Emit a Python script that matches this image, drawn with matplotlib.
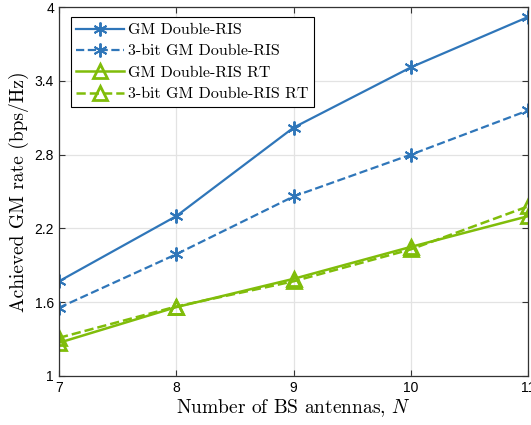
import numpy as np
import matplotlib
matplotlib.use("Agg")
import matplotlib.pyplot as plt

plt.rcParams['mathtext.fontset'] = 'cm'
plt.rcParams['axes.unicode_minus'] = False

# data
antennas = [7, 8, 9, 10, 11]
gm_double = [1.77, 2.30, 3.02, 3.51, 3.92]
gm_double_3bit = [1.555, 1.99, 2.46, 2.80, 3.16]
gm_double_rt = [1.27, 1.56, 1.79, 2.05, 2.30]
gm_double_rt_3bit = [1.31, 1.565, 1.77, 2.03, 2.38]

labels = ['GM Double-RIS', '3-bit GM Double-RIS',
          'GM Double-RIS RT', '3-bit GM Double-RIS RT']
yticks = [1, 1.6, 2.2, 2.8, 3.4, 4]

blue = '#2F76B9'
green = '#80BD0A'
serif = 'cmr10'

fig = plt.figure(figsize=(5.31, 4.25), dpi=100)
ax = fig.add_axes([0.111, 0.1153, 0.884, 0.8682])

ax.plot(antennas, gm_double, '-', color=blue, lw=1.6,
        marker=(6, 2, 0), ms=10, mew=1.4, label=labels[0])
ax.plot(antennas, gm_double_3bit, '--', color=blue, lw=1.6,
        marker=(6, 2, 0), ms=10, mew=1.4, label=labels[1])
ax.plot(antennas, gm_double_rt, '-', color=green, lw=1.8,
        marker='^', ms=10, mew=2, mfc='none', label=labels[2])
ax.plot(antennas, gm_double_rt_3bit, '--', color=green, lw=1.8,
        marker='^', ms=10, mew=2, mfc='none', label=labels[3])

ax.set_xlim(7, 11)
ax.set_ylim(1, 4)
ax.set_xticks(antennas)
ax.set_yticks(yticks)
ax.set_yticklabels([f'{v:g}' for v in yticks])
ax.tick_params(direction='in', top=True, right=True, labelsize=10,
               length=4, color='#333333')
for lab in ax.get_xticklabels() + ax.get_yticklabels():
    lab.set_family('Liberation Sans')
for sp in ax.spines.values():
    sp.set_color('#333333')
    sp.set_linewidth(0.9)
ax.grid(True, color='#E3E3E3', lw=0.9)
ax.set_axisbelow(True)

ax.set_xlabel('Number of BS antennas, $N$', family=serif, fontsize=14, labelpad=2)
ax.set_ylabel('Achieved GM rate (bps/Hz)', family=serif, fontsize=14, labelpad=4)

leg = ax.legend(loc='upper left', bbox_to_anchor=(0.015, 0.985),
                prop={'family': serif, 'size': 11.5}, fancybox=False,
                framealpha=1, edgecolor='black', handlelength=3.0,
                handletextpad=0.25, borderpad=0.35, labelspacing=0.45,
                borderaxespad=0.3)
leg.get_frame().set_linewidth(0.8)

fig.savefig('out.png', dpi=100)
